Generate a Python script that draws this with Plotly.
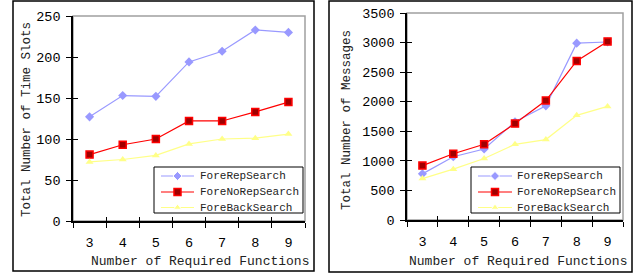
import plotly.graph_objects as go

W, H = 644, 276
functions = [3, 4, 5, 6, 7, 8, 9]
bounds = [2.5, 3.5, 4.5, 5.5, 6.5, 7.5, 8.5, 9.5]

slots_rep = [127, 153, 152, 194, 207, 233, 230]
slots_norep = [81, 93, 100, 122, 122, 133, 145]
slots_back = [72, 75, 80, 94, 100, 101, 106]

msg_rep = [780, 1070, 1200, 1660, 1930, 2990, 3010]
msg_norep = [920, 1120, 1280, 1630, 2020, 2690, 3020]
msg_back = [700, 860, 1040, 1280, 1360, 1770, 1920]

names = ["ForeRepSearch", "ForeNoRepSearch", "ForeBackSearch"]
FONT = "Liberation Mono"

styles = [
    dict(line=dict(color="#9999FF", width=1.2),
         marker=dict(symbol="diamond", size=7, color="#9999FF")),
    dict(line=dict(color="#FF0000", width=1.2),
         marker=dict(symbol="square", size=7, color="#A00000",
                     line=dict(color="#FF0000", width=1.5))),
    dict(line=dict(color="#FFFF88", width=1.2),
         marker=dict(symbol="triangle-up", size=7, color="#FFFF88")),
]

fig = go.Figure()
for i, ys in enumerate([slots_rep, slots_norep, slots_back]):
    fig.add_trace(go.Scatter(x=functions, y=ys, mode="lines+markers", name=names[i],
                             xaxis="x", yaxis="y", showlegend=False, **styles[i]))
for i, ys in enumerate([msg_rep, msg_norep, msg_back]):
    fig.add_trace(go.Scatter(x=functions, y=ys, mode="lines+markers", name=names[i],
                             xaxis="x2", yaxis="y2", showlegend=False, **styles[i]))
# dummy traces for overlay tick axes
fig.add_trace(go.Scatter(x=[None], y=[None], xaxis="x3", yaxis="y3", showlegend=False, hoverinfo="skip"))
fig.add_trace(go.Scatter(x=[None], y=[None], xaxis="x4", yaxis="y4", showlegend=False, hoverinfo="skip"))

# compact legends (pixel-space helper axis x5/y5 covering the page)
legend_boxes = [(154, 167, 303, 213, 161, 194, 198), (471, 167, 620, 213, 478, 512, 515)]
row_y = [176, 192, 207.5]
shapes = []
annotations = []
for (bx0, by0, bx1, by1, lx0, lx1, tx) in legend_boxes:
    shapes.append(dict(type="rect", xref="paper", yref="paper", x0=bx0 / W, x1=bx1 / W,
                       y0=1 - by1 / H, y1=1 - by0 / H, line=dict(color="black", width=1),
                       fillcolor="white", layer="below"))
    for i, ry in enumerate(row_y):
        st = styles[i]
        mk = dict(st["marker"])
        mk["size"] = [0, 7, 0]
        mk["opacity"] = [0, 1, 0]
        fig.add_trace(go.Scatter(x=[lx0, (lx0 + lx1) / 2, lx1], y=[ry, ry, ry], mode="lines+markers",
                                 line=st["line"], marker=mk, xaxis="x5", yaxis="y5",
                                 showlegend=False, hoverinfo="skip", name=names[i]))
        annotations.append(dict(text=names[i], x=tx / W, y=1 - ry / H, xref="paper", yref="paper",
                                showarrow=False, xanchor="left", yanchor="middle",
                                font=dict(family=FONT, size=11, color="#222222")))

tickfont = dict(family=FONT, size=13.5, color="black")
dl = [73 / W, 305 / W]
dly = [55 / H, 260 / H]
dr = [407 / W, 623 / W]
dry = [56 / H, 263 / H]

def xax(domain, anchor):
    return dict(domain=domain, anchor=anchor, range=[2.5, 9.5], tickvals=functions,
                ticks="", showgrid=False, zeroline=False, showline=True, linecolor="black",
                linewidth=1.5, tickfont=tickfont, ticklabelstandoff=8,
                minor=dict(tickvals=bounds, ticks="outside", ticklen=5, tickcolor="black", tickwidth=1))

def yax(domain, anchor, rng, dtick):
    return dict(domain=domain, anchor=anchor, range=rng, dtick=dtick, tick0=0,
                ticks="outside", ticklen=5, tickcolor="black", tickwidth=1,
                showgrid=False, zeroline=False, showline=True, linecolor="black",
                linewidth=1.5, tickfont=tickfont, ticklabelstandoff=3)

def xin(over, anchor, domain):
    return dict(overlaying=over, anchor=anchor, domain=domain, range=[2.5, 9.5], tickvals=bounds,
                ticks="inside", ticklen=4, tickcolor="black", showticklabels=False,
                showgrid=False, zeroline=False, showline=False)

def yin(over, anchor, domain, rng, dtick):
    return dict(overlaying=over, anchor=anchor, domain=domain, range=rng, dtick=dtick, tick0=0,
                ticks="inside", ticklen=5, tickcolor="black", showticklabels=False,
                showgrid=False, zeroline=False, showline=False)

# gray plot-area borders
for xr, yr in [("x domain", "y domain"), ("x2 domain", "y2 domain")]:
    shapes.append(dict(type="rect", xref=xr, yref=yr, x0=0, x1=1, y0=0, y1=1,
                       line=dict(color="#A0A0A0", width=1.5), layer="below"))
# outer frames
for (a, b, c, d) in [(13, 1, 314, 271), (329, 1, 632, 272)]:
    shapes.append(dict(type="rect", xref="paper", yref="paper", x0=a / W, x1=c / W,
                       y0=1 - d / H, y1=1 - b / H, line=dict(color="black", width=1.5)))

annfont = dict(family=FONT, size=13, color="#222222")
annotations += [
    dict(text="Number of Required Functions", x=200 / W, y=1 - 261 / H, xref="paper", yref="paper",
         showarrow=False, font=annfont, xanchor="center", yanchor="middle"),
    dict(text="Number of Required Functions", x=518 / W, y=1 - 261 / H, xref="paper", yref="paper",
         showarrow=False, font=annfont, xanchor="center", yanchor="middle"),
    dict(text="Total Number of Time Slots", x=27 / W, y=1 - 120 / H, xref="paper", yref="paper",
         showarrow=False, font=dict(family=FONT, size=12.5, color="#222222"), textangle=-90,
         xanchor="center", yanchor="middle"),
    dict(text="Total Number of Messages", x=347 / W, y=1 - 120 / H, xref="paper", yref="paper",
         showarrow=False, font=dict(family=FONT, size=12.5, color="#222222"), textangle=-90,
         xanchor="center", yanchor="middle"),
]

fig.update_layout(
    width=W, height=H, margin=dict(l=0, r=0, t=0, b=0, autoexpand=False),
    paper_bgcolor="white", plot_bgcolor="rgba(0,0,0,0)",
    xaxis=xax(dl, "y"), yaxis=yax(dly, "x", [0, 250], 50),
    xaxis2=xax(dr, "y2"), yaxis2=yax(dry, "x2", [0, 3500], 500),
    xaxis3=xin("x", "y3", dl), yaxis3=yin("y", "x3", dly, [0, 250], 50),
    xaxis4=xin("x2", "y4", dr), yaxis4=yin("y2", "x4", dry, [0, 3500], 500),
    xaxis5=dict(domain=[0, 1], anchor="y5", range=[0, W], visible=False, fixedrange=True),
    yaxis5=dict(domain=[0, 1], anchor="x5", range=[H, 0], visible=False, fixedrange=True),
    shapes=shapes, annotations=annotations, showlegend=False,
)

fig.write_html("out.html", config={"displayModeBar": False},
               post_script="document.body.style.margin='0';document.body.style.overflow='hidden';")
